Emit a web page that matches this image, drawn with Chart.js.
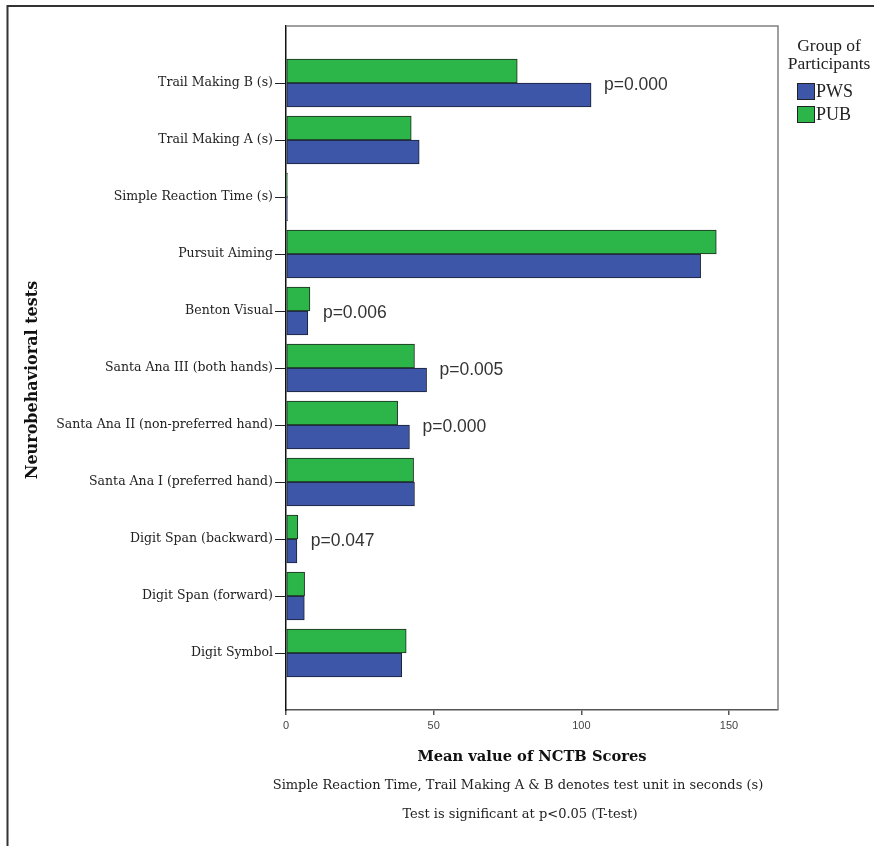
<!DOCTYPE html>
<html>
<head>
<meta charset="utf-8">
<script src="https://cdn.jsdelivr.net/npm/chart.js@4.4.1/dist/chart.umd.min.js"></script>
<style>
  html, body { margin: 0; padding: 0; background: #ffffff; }
  #wrap { width: 874px; height: 846px; }
</style>
</head>
<body>
<div id="wrap"><canvas id="c" width="874" height="846"></canvas></div>
<script>
// Neurobehavioral test battery (NCTB), listed top to bottom
const tests = [
  'Trail Making B (s)',
  'Trail Making A (s)',
  'Simple Reaction Time (s)',
  'Pursuit Aiming',
  'Benton Visual',
  'Santa Ana III (both hands)',
  'Santa Ana II (non-preferred hand)',
  'Santa Ana I (preferred hand)',
  'Digit Span (backward)',
  'Digit Span (forward)',
  'Digit Symbol'
];

// Mean scores per group
const pwsScores = [103.3, 45.1, 0.5, 140.4, 7.4, 47.6, 41.8, 43.5, 3.7, 6.2, 39.2];
const pubScores = [78.3, 42.4, 0.5, 145.7, 8.1, 43.5, 37.8, 43.2, 4.0, 6.3, 40.7];

// T-test p-values shown next to the significant tests
const pValues = ['0.000', null, null, null, '0.006', '0.005', '0.000', null, '0.047', null, null];

const xTickValues = [0, 50, 100, 150];
const groupNames = ['PWS', 'PUB'];
const legendTitle = ['Group of', 'Participants'];
const xAxisTitle = 'Mean value of NCTB Scores';
const yAxisTitle = 'Neurobehavioral tests';
const footnotes = [
  'Simple Reaction Time, Trail Making A & B denotes test unit in seconds (s)',
  'Test is significant at p<0.05 (T-test)'
];

const PWS_BLUE = 'rgb(62, 86, 168)';
const PUB_GREEN = 'rgb(44, 182, 74)';
const SERIF = '"DejaVu Serif", "Liberation Serif", serif';
const TIMES = '"Liberation Serif", "DejaVu Serif", serif';

const toPoints = (arr) => arr.map((v, i) => ({ x: v, y: i }));

// Frame, legend, p-value notes and footnotes
const decorations = {
  id: 'decorations',
  afterDraw(chart) {
    const ctx = chart.ctx;
    const area = chart.chartArea;
    const xs = chart.scales.x;
    const ys = chart.scales.y;
    ctx.save();

    // outer border (top and left edges)
    ctx.strokeStyle = '#333';
    ctx.lineWidth = 2;
    ctx.beginPath();
    ctx.moveTo(874, 6);
    ctx.lineTo(7.5, 6);
    ctx.lineTo(7.5, 846);
    ctx.stroke();

    // plot frame: top and right sides
    ctx.strokeStyle = '#808080';
    ctx.lineWidth = 1.5;
    ctx.beginPath();
    ctx.moveTo(area.left, area.top);
    ctx.lineTo(area.right, area.top);
    ctx.lineTo(area.right, area.bottom);
    ctx.stroke();

    // p-value notes
    ctx.fillStyle = '#333';
    ctx.font = '17.5px "Liberation Sans", Arial, sans-serif';
    ctx.textAlign = 'left';
    ctx.textBaseline = 'middle';
    pValues.forEach((p, i) => {
      if (!p) return;
      const end = Math.max(pwsScores[i], pubScores[i]);
      ctx.fillText('p=' + p, xs.getPixelForValue(end) + 13, ys.getPixelForValue(i) + 2);
    });

    // y axis title
    ctx.fillStyle = '#111';
    ctx.font = 'bold 16px ' + SERIF;
    ctx.textAlign = 'center';
    ctx.save();
    ctx.translate(33, 380);
    ctx.rotate(-Math.PI / 2);
    ctx.fillText(yAxisTitle, 0, 0);
    ctx.restore();

    // x axis title
    ctx.font = 'bold 14.7px ' + SERIF;
    ctx.fillText(xAxisTitle, (area.left + area.right) / 2, 757);

    // footnotes
    ctx.fillStyle = '#222';
    ctx.font = '13px ' + SERIF;
    ctx.fillText(footnotes[0], 518, 786);
    ctx.fillText(footnotes[1], 520, 815);

    // legend
    ctx.fillStyle = '#222';
    ctx.font = '17.5px ' + TIMES;
    ctx.fillText(legendTitle[0], 829, 46);
    ctx.fillText(legendTitle[1], 829, 64);
    const boxes = [
      { name: groupNames[0], color: PWS_BLUE, y: 83 },
      { name: groupNames[1], color: PUB_GREEN, y: 106 }
    ];
    ctx.textAlign = 'left';
    ctx.font = '18px ' + TIMES;
    boxes.forEach(b => {
      ctx.fillStyle = b.color;
      ctx.fillRect(797, b.y, 18, 17);
      ctx.strokeStyle = '#222';
      ctx.lineWidth = 1;
      ctx.strokeRect(797.5, b.y + 0.5, 17, 16);
      ctx.fillStyle = '#222';
      ctx.fillText(b.name, 816, b.y + 9);
    });

    ctx.restore();
  }
};

new Chart(document.getElementById('c'), {
  type: 'bar',
  data: {
    datasets: [
      {
        label: groupNames[1],
        data: toPoints(pubScores),
        backgroundColor: PUB_GREEN,
        borderColor: '#1c2a1c',
        borderWidth: 1,
        borderSkipped: false,
        barThickness: 24
      },
      {
        label: groupNames[0],
        data: toPoints(pwsScores),
        backgroundColor: PWS_BLUE,
        borderColor: '#1a1f33',
        borderWidth: 1,
        borderSkipped: false,
        barThickness: 24
      }
    ]
  },
  options: {
    indexAxis: 'y',
    responsive: false,
    animation: false,
    devicePixelRatio: 1,
    layout: { padding: { left: 0, right: 96, top: 26, bottom: 0 } },
    plugins: {
      legend: { display: false },
      tooltip: { enabled: false }
    },
    scales: {
      x: {
        type: 'linear',
        position: 'bottom',
        min: 0,
        max: 166.6,
        afterBuildTicks: (scale) => { scale.ticks = xTickValues.map(v => ({ value: v })); },
        afterFit: (scale) => { scale.height = 136; },
        grid: { drawOnChartArea: false, drawTicks: true, tickLength: 5, color: '#555', lineWidth: 1.5 },
        border: { display: true, color: '#555', width: 1.5 },
        ticks: {
          color: '#444',
          padding: 4,
          font: { family: '"Liberation Sans Narrow", "Liberation Sans", Arial, sans-serif', size: 11 }
        }
      },
      y: {
        type: 'linear',
        position: 'left',
        reverse: true,
        offset: false,
        min: -1,
        max: 11,
        afterBuildTicks: (scale) => { scale.ticks = tests.map((_, i) => ({ value: i })); },
        afterFit: (scale) => { scale.width = 286; },
        grid: { offset: false, drawOnChartArea: false, drawTicks: true, tickLength: 11, color: '#222', lineWidth: 1 },
        border: { display: true, color: '#111', width: 1.5 },
        ticks: {
          autoSkip: false,
          color: '#222',
          padding: 2,
          font: { family: SERIF, size: 12.5 },
          callback: (value) => tests[value]
        }
      }
    }
  },
  plugins: [decorations]
});
</script>
</body>
</html>
